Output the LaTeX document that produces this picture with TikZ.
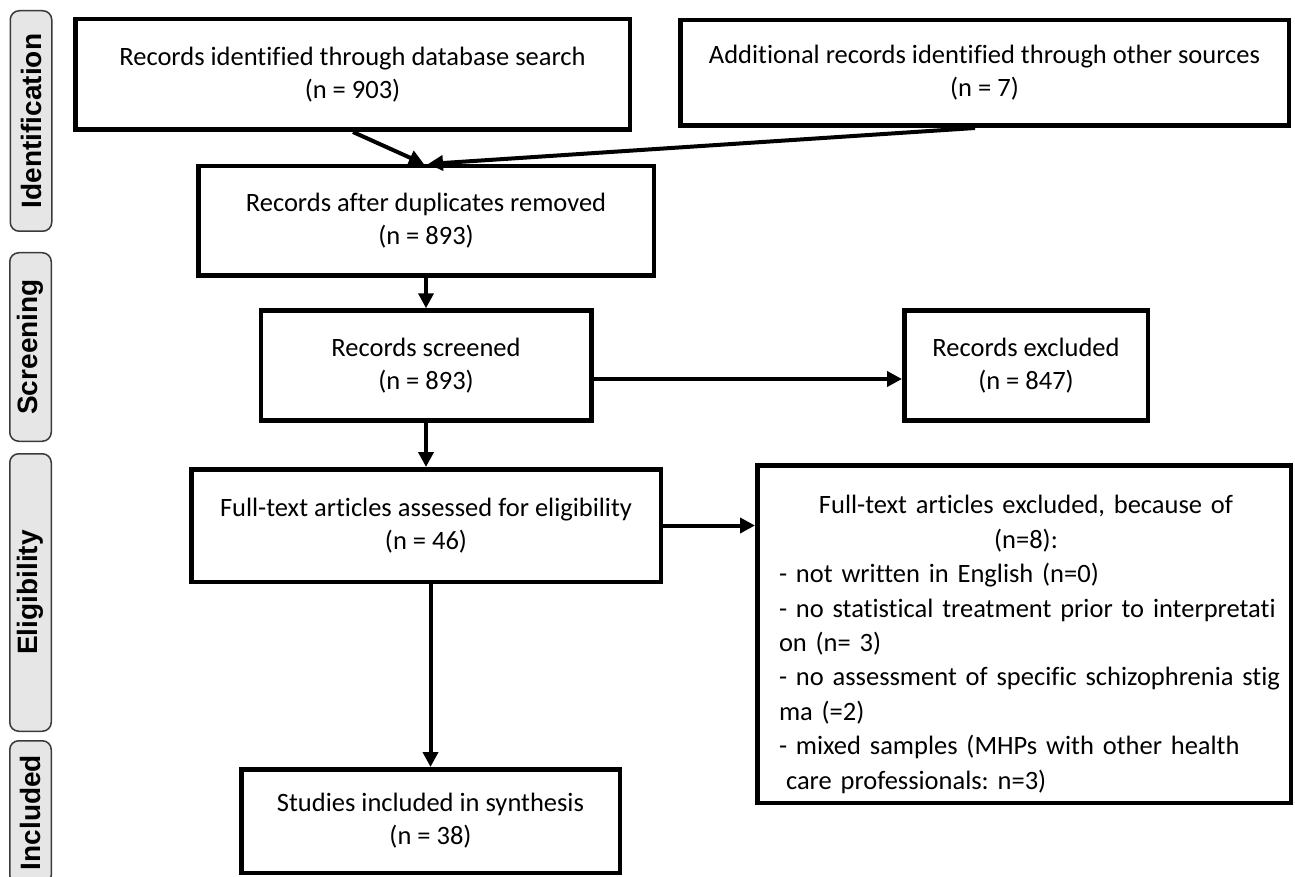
\documentclass[tikz,border=0pt]{standalone}
\usepackage{fontspec}
\setmainfont{Carlito}[Ligatures={NoCommon,NoRequired,NoContextual}]
\newfontfamily\sidefont{Liberation Sans}
\usetikzlibrary{arrows.meta,calc}
\definecolor{sidefill}{HTML}{E6E6E6}
\definecolor{sidedraw}{HTML}{3A3A3A}
\frenchspacing
\begin{document}
\begin{tikzpicture}[x=1pt,y=-1pt,
  box/.style={draw=black, line width=4.5pt, fill=white, align=center, inner sep=0pt,
    font=\fontsize{26.5}{33}\selectfont},
  side/.style={draw=sidedraw, line width=1.5pt, fill=sidefill, rounded corners=9pt,
    inner sep=0pt, minimum height=41.5pt, rotate=90,
    font=\sidefont\bfseries\fontsize{28}{30}\selectfont},
  arr/.style={line width=4pt, -{Triangle[length=15pt,width=15pt]}},
  plain/.style={inner sep=0pt, font=\fontsize{26.5}{34.4}\selectfont},
]
\useasboundingbox (0,0) rectangle (1295,877);
\fill[white] (0,0) rectangle (1295,877);

% side labels
\node[side, minimum width=220.5pt] (L1) at (31,121) {Identification};
\node[side, minimum width=188.5pt] (L2) at (30.5,347) {Screening};
\node[side, minimum width=277.5pt] (L3) at (30.5,592.5) {Eligibility};
\node[side, minimum width=143.5pt] (L4) at (30.5,812.5) {Included};

% boxes
\node[box, minimum width=554.5pt, minimum height=110.5pt] (B1) at (352.5,74.5)
  {Records identified through database search\\(n = 903)};
\node[box, minimum width=608.5pt, minimum height=105.5pt] (B2) at (984.5,73)
  {Additional records identified through other sources\\(n = 7)};
\node[box, minimum width=455.5pt, minimum height=109.5pt] (B3) at (426,221)
  {Records after duplicates removed\\(n = 893)};
\node[box, minimum width=330.5pt, minimum height=110pt] (B4) at (426,365.5)
  {Records screened\\(n = 893)};
\node[box, minimum width=243.5pt, minimum height=110pt] (E1) at (1026,365.5)
  {Records excluded\\(n = 847)};
\node[box, minimum width=469.5pt, minimum height=112.5pt] (B5) at (426,525.5)
  {Full-text articles assessed for eligibility\\(n = 46)};
\node[box, minimum width=533.5pt, minimum height=337.5pt] (E2) at (1024,634) {};
\node[plain, text width=494pt, align=left] (E2t) at (1026,644.5)
  {\makebox[494pt][c]{Full-text articles excluded, because of}\\
   \makebox[494pt][c]{(n=8):}\\
   - not written in English (n=0)\\
   \makebox[494pt][s]{- no statistical treatment prior to interpretati}\\
   on (n= 3)\\
   \makebox[494pt][s]{- no assessment of specific schizophrenia stig}\\
   ma (=2)\\
   - mixed samples (MHPs with other health\\
   \hspace*{7pt}care professionals: n=3)};
\node[box, minimum width=378.5pt, minimum height=103.5pt] (B6) at (430.5,821)
  {Studies included in synthesis\\(n = 38)};

% connectors
\coordinate (s1) at ($(B1.south)+(0.5,0)$);
\coordinate (s2) at ($(B2.south)+(-9.5,0)$);
\coordinate (t1) at ($(B3.north)+(-2,0)$);
\coordinate (t2) at ($(B3.north)+(2,0)$);
\draw[arr] (s1) -- (t1);
\draw[arr] (s2) -- (t2);
\draw[arr] (B3.south) -- (B4.north);
\draw[arr] (B4.south) -- (B5.north);
\draw[arr] ($(B4.east)+(0,13.5)$) -- ($(E1.west)+(0,13.5)$);
\draw[arr] (B5.east) -- (E2.west |- B5.east);
\draw[arr] (B6.north |- B5.south) -- (B6.north);
\end{tikzpicture}
\end{document}
